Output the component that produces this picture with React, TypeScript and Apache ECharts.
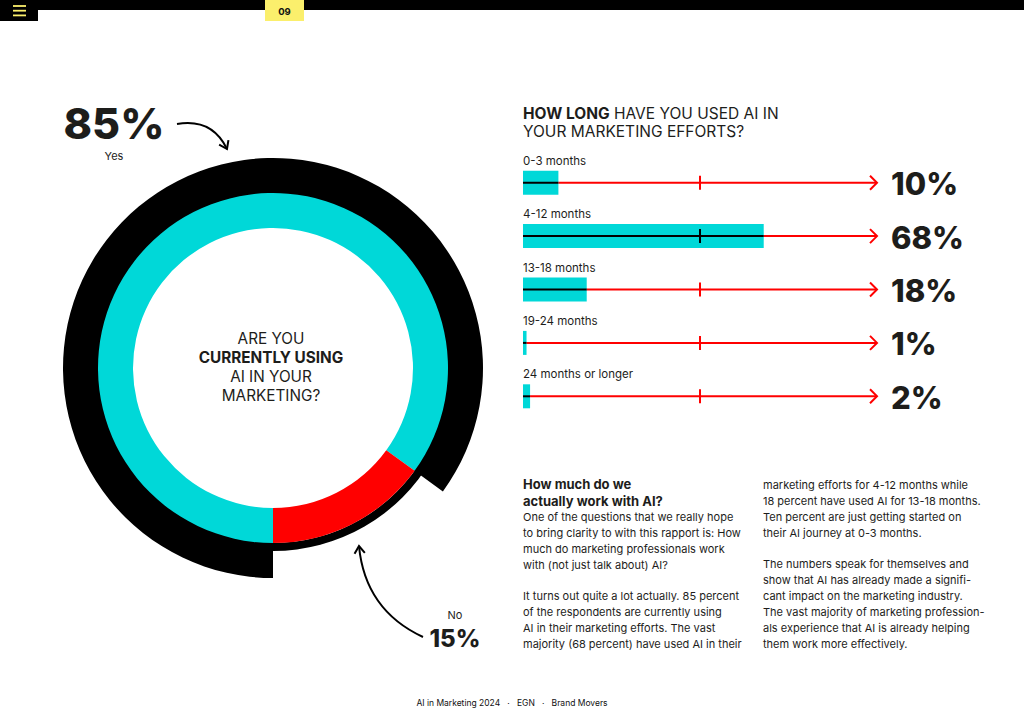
import React, { useEffect, useRef } from "react";
import * as echarts from "echarts";

// ---- data ----
const durationCategories = ["0-3 months", "4-12 months", "13-18 months", "19-24 months", "24 months or longer"];
const durationValues = [10, 68, 18, 1, 2];
const usageLabels = ["Yes", "No"];
const usageValues = [85, 15];
const midTick = 50;
const axisMax = 100;

const titleBold = "HOW LONG";
const titleRest = "HAVE YOU USED AI IN";
const titleLine2 = "YOUR MARKETING EFFORTS?";
const centerLines = ["ARE YOU", "CURRENTLY USING", "AI IN YOUR", "MARKETING?"];
const pageNumber = "09";
const footerText = "AI in Marketing 2024   ·   EGN   ·   Brand Movers";

const leftHeading = ["How much do we", "actually work with AI?"];
const leftPara1 = [
  "One of the questions that we really hope",
  "to bring clarity to with this rapport is: How",
  "much do marketing professionals work",
  "with (not just talk about) AI?",
];
const leftPara2 = [
  "It turns out quite a lot actually. 85 percent",
  "of the respondents are currently using",
  "AI in their marketing efforts. The vast",
  "majority (68 percent) have used AI in their",
];
const rightPara1 = [
  "marketing efforts for 4-12 months while",
  "18 percent have used AI for 13-18 months.",
  "Ten percent are just getting started on",
  "their AI journey at 0-3 months.",
];
const rightPara2 = [
  "The numbers speak for themselves and",
  "show that AI has already made a signifi-",
  "cant impact on the marketing industry.",
  "The vast majority of marketing profession-",
  "als experience that AI is already helping",
  "them work more effectively.",
];

const CYAN = "#00d8d8";
const RED = "#ff0000";
const INK = "#1d1d1b";
const YELLOW = "#fbef6c";
const FONT = "Inter, 'Noto Sans', sans-serif";

function txt(x: number, y: number, text: string, opts: any = {}) {
  const align = opts.align || "left";
  const valign = opts.valign || "top";
  return {
    type: "text",
    silent: true,
    style: {
      x,
      y,
      text,
      fill: opts.color || INK,
      fontSize: opts.size || 11,
      fontWeight: opts.weight || 400,
      fontFamily: FONT,
      lineHeight: opts.lh,
      align,
      textAlign: align,
      verticalAlign: valign,
      textVerticalAlign: valign,
    },
  };
}

function arrowWings(tip: number[], from: number[], len = 9, ang = 35) {
  const dx = tip[0] - from[0];
  const dy = tip[1] - from[1];
  const d = Math.hypot(dx, dy);
  const bx = -dx / d;
  const by = -dy / d;
  const a = (ang * Math.PI) / 180;
  const c = Math.cos(a);
  const s = Math.sin(a);
  const w1 = [tip[0] + (bx * c - by * s) * len, tip[1] + (bx * s + by * c) * len];
  const w2 = [tip[0] + (bx * c + by * s) * len, tip[1] + (-bx * s + by * c) * len];
  return [w1, tip, w2];
}

export default function App() {
  const ref = useRef<HTMLDivElement>(null);

  useEffect(() => {
    if (!ref.current) return;
    const chart = echarts.init(ref.current, undefined, { renderer: "svg" });

    const pieCenter = [273, 368];
    const yesArrowStart = [177, 124];
    const yesArrowCtrl = [212, 118];
    const yesArrowEnd = [227, 149];
    const noArrowStart = [423, 637];
    const noArrowCtrl = [365, 610];
    const noArrowEnd = [359, 546];

    const option: any = {
      animation: false,
      backgroundColor: "#ffffff",
      grid: { left: 523, top: 156, width: 354, height: 267, containLabel: false },
      xAxis: { type: "value", min: 0, max: axisMax, show: false },
      yAxis: { type: "category", data: durationCategories, inverse: true, show: false },
      series: [
        {
          type: "pie",
          silent: true,
          center: pieCenter,
          radius: [175, 183],
          startAngle: -90,
          label: { show: false },
          labelLine: { show: false },
          itemStyle: { borderWidth: 0 },
          data: [{ value: 100, itemStyle: { color: "#000" } }],
          z: 1,
        },
        {
          type: "pie",
          silent: true,
          center: pieCenter,
          radius: [174, 210],
          startAngle: -90,
          label: { show: false },
          labelLine: { show: false },
          itemStyle: { borderWidth: 0 },
          data: [
            { value: usageValues[0], name: usageLabels[0], itemStyle: { color: "#000" } },
            { value: usageValues[1], name: usageLabels[1], itemStyle: { color: "transparent" } },
          ],
          z: 2,
        },
        {
          type: "pie",
          silent: true,
          center: pieCenter,
          radius: [140, 175],
          startAngle: -90,
          label: { show: false },
          labelLine: { show: false },
          itemStyle: { borderWidth: 0 },
          data: [
            { value: usageValues[0], name: usageLabels[0], itemStyle: { color: CYAN } },
            { value: usageValues[1], name: usageLabels[1], itemStyle: { color: RED } },
          ],
          z: 3,
        },
        {
          type: "bar",
          silent: true,
          data: durationValues,
          barWidth: 24,
          itemStyle: { color: CYAN },
          label: {
            show: true,
            position: [0, -16],
            formatter: (p: any) => p.name,
            color: INK,
            fontSize: 11.5,
            fontFamily: FONT,
          },
          z: 2,
        },
        {
          type: "custom",
          silent: true,
          data: durationValues.map((v, i) => [v, i]),
          encode: { x: 0, y: 1 },
          z: 5,
          renderItem: (_params: any, api: any) => {
            const v = api.value(0);
            const idx = api.value(1);
            const p0 = api.coord([0, idx]);
            const pv = api.coord([v, idx]);
            const pm = api.coord([midTick, idx]);
            const p1 = api.coord([axisMax, idx]);
            const y = p0[1];
            return {
              type: "group",
              children: [
                {
                  type: "line",
                  shape: { x1: pv[0], y1: y, x2: p1[0] - 1, y2: y },
                  style: { stroke: RED, lineWidth: 2 },
                },
                {
                  type: "line",
                  shape: { x1: p0[0], y1: y, x2: pv[0], y2: y },
                  style: { stroke: "#000", lineWidth: 2 },
                },
                {
                  type: "line",
                  shape: { x1: pm[0], y1: y - 7, x2: pm[0], y2: y + 7 },
                  style: { stroke: v > midTick ? "#000" : RED, lineWidth: 2 },
                },
                {
                  type: "polyline",
                  shape: { points: [[p1[0] - 7, y - 7], [p1[0], y], [p1[0] - 7, y + 7]] },
                  style: { stroke: RED, lineWidth: 2, fill: "none" },
                },
                {
                  type: "text",
                  style: {
                    x: p1[0] + 14,
                    y: y + 1,
                    text: `${v}%`,
                    fill: INK,
                    fontSize: 31,
                    fontWeight: 800,
                    fontFamily: FONT,
                    align: "left",
                    textAlign: "left",
                    verticalAlign: "middle",
                    textVerticalAlign: "middle",
                  },
                },
              ],
            };
          },
        },
      ],
      graphic: [
        // top bar
        { type: "rect", silent: true, shape: { x: 0, y: 0, width: 1024, height: 10 }, style: { fill: "#000" } },
        { type: "rect", silent: true, shape: { x: 0, y: 0, width: 38, height: 21 }, style: { fill: "#000" } },
        { type: "line", silent: true, shape: { x1: 13, y1: 6, x2: 26, y2: 6 }, style: { stroke: YELLOW, lineWidth: 1.8 } },
        { type: "line", silent: true, shape: { x1: 13, y1: 10.7, x2: 26, y2: 10.7 }, style: { stroke: YELLOW, lineWidth: 1.8 } },
        { type: "line", silent: true, shape: { x1: 13, y1: 15.4, x2: 26, y2: 15.4 }, style: { stroke: YELLOW, lineWidth: 1.8 } },
        { type: "rect", silent: true, shape: { x: 265, y: 0, width: 39, height: 21 }, style: { fill: YELLOW } },
        txt(284.5, 11.5, pageNumber, { size: 9.5, weight: 700, align: "center", valign: "middle", color: "#111" }),

        // 85% / Yes
        txt(114, 123, `${usageValues[0]}%`, { size: 43, weight: 800, align: "center", valign: "middle" }),
        txt(114, 156, usageLabels[0], { size: 11, align: "center", valign: "middle" }),
        {
          type: "bezierCurve",
          silent: true,
          shape: {
            x1: yesArrowStart[0], y1: yesArrowStart[1],
            x2: yesArrowEnd[0], y2: yesArrowEnd[1],
            cpx1: yesArrowCtrl[0], cpy1: yesArrowCtrl[1],
          },
          style: { stroke: "#000", lineWidth: 2, fill: "none" },
        },
        {
          type: "polyline",
          silent: true,
          shape: { points: arrowWings(yesArrowEnd, yesArrowCtrl) },
          style: { stroke: "#000", lineWidth: 2, fill: "none" },
        },

        // 15% / No
        txt(455, 615, usageLabels[1], { size: 11, align: "center", valign: "middle" }),
        txt(455, 638, `${usageValues[1]}%`, { size: 24, weight: 800, align: "center", valign: "middle" }),
        {
          type: "bezierCurve",
          silent: true,
          shape: {
            x1: noArrowStart[0], y1: noArrowStart[1],
            x2: noArrowEnd[0], y2: noArrowEnd[1],
            cpx1: noArrowCtrl[0], cpy1: noArrowCtrl[1],
          },
          style: { stroke: "#000", lineWidth: 2, fill: "none" },
        },
        {
          type: "polyline",
          silent: true,
          shape: { points: arrowWings(noArrowEnd, noArrowCtrl) },
          style: { stroke: "#000", lineWidth: 2, fill: "none" },
        },

        // center text
        {
          type: "text",
          silent: true,
          style: {
            x: 271,
            y: 367,
            text: centerLines.map((l, i) => (i === 1 ? `{b|${l}}` : `{r|${l}}`)).join("\n"),
            align: "center",
            textAlign: "center",
            verticalAlign: "middle",
            textVerticalAlign: "middle",
            rich: {
              r: { fontSize: 15.3, fontWeight: 400, fontFamily: FONT, fill: INK, color: INK, lineHeight: 19 },
              b: { fontSize: 15.3, fontWeight: 700, fontFamily: FONT, fill: INK, color: INK, lineHeight: 19 },
            },
          },
        },

        // right title
        {
          type: "text",
          silent: true,
          style: {
            x: 523,
            y: 104,
            text: `{b|${titleBold}}{r| ${titleRest}}\n{r|${titleLine2}}`,
            align: "left",
            textAlign: "left",
            verticalAlign: "top",
            textVerticalAlign: "top",
            rich: {
              r: { fontSize: 15.5, fontWeight: 400, fontFamily: FONT, fill: INK, color: INK, lineHeight: 18 },
              b: { fontSize: 15.5, fontWeight: 700, fontFamily: FONT, fill: INK, color: INK, lineHeight: 18 },
            },
          },
        },

        // paragraphs
        txt(523, 475.5, leftHeading.join("\n"), { size: 13, weight: 700, lh: 16.7 }),
        txt(523, 508.5, leftPara1.join("\n"), { size: 11, lh: 16 }),
        txt(523, 588, leftPara2.join("\n"), { size: 11, lh: 16 }),
        txt(763, 477, rightPara1.join("\n"), { size: 11, lh: 16 }),
        txt(763, 556, rightPara2.join("\n"), { size: 11, lh: 16 }),

        // footer
        txt(512, 703, footerText, { size: 8.5, align: "center", valign: "middle", color: "#111" }),
      ],
    };

    chart.setOption(option);
    return () => chart.dispose();
  }, []);

  return (
    <div
      ref={ref}
      style={{ position: "fixed", left: 0, top: 0, width: 1024, height: 726, background: "#fff" }}
    />
  );
}
